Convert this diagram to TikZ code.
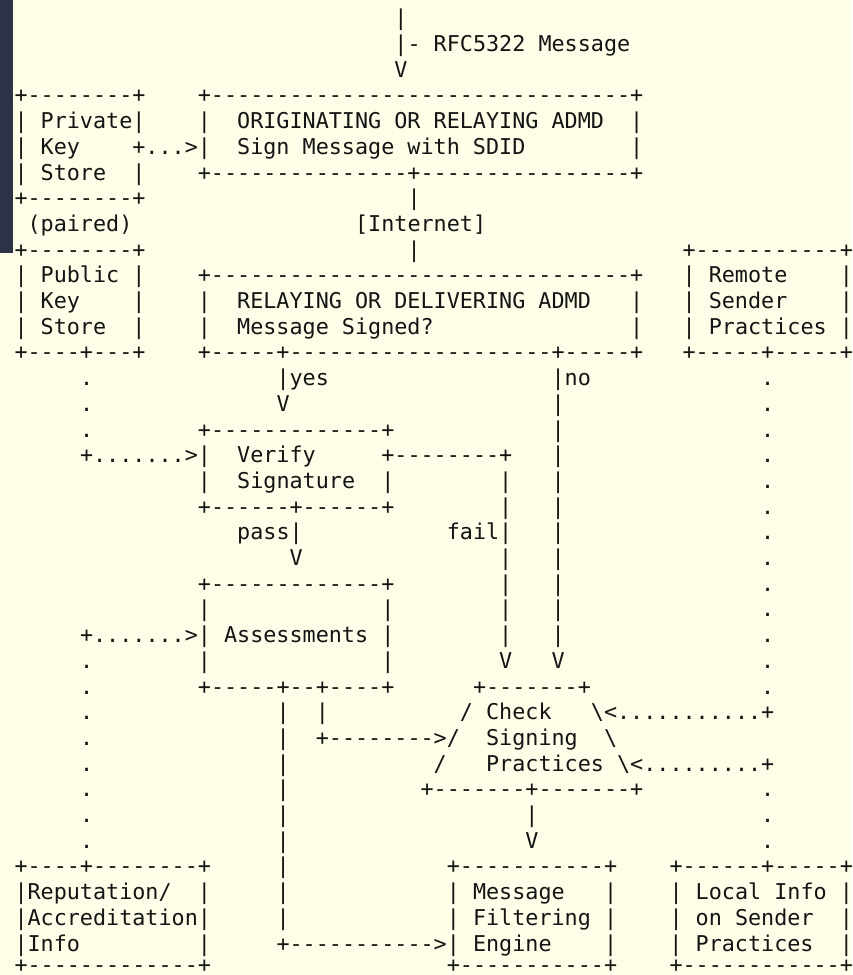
\documentclass[tikz,border=0pt]{standalone}
\usepackage{fontspec}
\setmonofont{DejaVu Sans Mono}
\definecolor{papercolor}{RGB}{254,253,232}
\definecolor{sidebarcolor}{RGB}{44,51,70}
\definecolor{inkcolor}{RGB}{20,20,20}
\newcommand{\atcol}[2]{\makebox[0pt][l]{\kern#1\fontdimen2\font\relax#2}}

\begin{document}
\begin{tikzpicture}[x=0.5pt, y=-0.5pt,
    asciirow/.style={anchor=base west, inner sep=0pt, outer sep=0pt, text=inkcolor,
        font=\ttfamily\fontsize{10.88}{13}\selectfont}]
    \fill[papercolor] (0,0) rectangle (852,975);
    \fill[sidebarcolor] (0,0) rectangle (13,253);
    \useasboundingbox (0,0) rectangle (852,975);

    % signing side
    \node[asciirow] at (13.5,25.8) (Row01) {\atcol{29}{|}};
    \node[asciirow] at (13.5,51.5) (Row02) {\atcol{29}{|- RFC5322 Message}};
    \node[asciirow] at (13.5,77.2) (Row03) {\atcol{29}{V}};
    \node[asciirow] at (13.5,102.9) (Row04) {\atcol{0}{+--------+}\atcol{14}{+--------------------------------+}};
    \node[asciirow] at (13.5,128.6) (Row05) {\atcol{0}{| Private|}\atcol{14}{|}\atcol{17}{ORIGINATING OR RELAYING ADMD}\atcol{47}{|}};
    \node[asciirow] at (13.5,154.3) (Row06) {\atcol{0}{| Key}\atcol{9}{+...>|}\atcol{17}{Sign Message with SDID}\atcol{47}{|}};
    \node[asciirow] at (13.5,180.0) (Row07) {\atcol{0}{| Store}\atcol{9}{|}\atcol{14}{+---------------+----------------+}};
    \node[asciirow] at (13.5,205.7) (Row08) {\atcol{0}{+--------+}\atcol{30}{|}};
    \node[asciirow] at (13.5,231.4) (Row09) {\atcol{1}{(paired)}\atcol{26}{[Internet]}};

    % verifying side
    \node[asciirow] at (13.5,257.1) (Row10) {\atcol{0}{+--------+}\atcol{30}{|}\atcol{51}{+-----------+}};
    \node[asciirow] at (13.5,282.8) (Row11) {\atcol{0}{| Public |}\atcol{14}{+--------------------------------+}\atcol{51}{| Remote}\atcol{63}{|}};
    \node[asciirow] at (13.5,308.5) (Row12) {\atcol{0}{| Key}\atcol{9}{|}\atcol{14}{|}\atcol{17}{RELAYING OR DELIVERING ADMD}\atcol{47}{|}\atcol{51}{| Sender}\atcol{63}{|}};
    \node[asciirow] at (13.5,334.2) (Row13) {\atcol{0}{| Store}\atcol{9}{|}\atcol{14}{|}\atcol{17}{Message Signed?}\atcol{47}{|}\atcol{51}{| Practices |}};
    \node[asciirow] at (13.5,359.9) (Row14) {\atcol{0}{+----+---+}\atcol{14}{+-----+--------------------+-----+}\atcol{51}{+-----+-----+}};
    \node[asciirow] at (13.5,385.6) (Row15) {\atcol{5}{.}\atcol{20}{|yes}\atcol{41}{|no}\atcol{57}{.}};
    \node[asciirow] at (13.5,411.3) (Row16) {\atcol{5}{.}\atcol{20}{V}\atcol{41}{|}\atcol{57}{.}};
    \node[asciirow] at (13.5,437.0) (Row17) {\atcol{5}{.}\atcol{14}{+-------------+}\atcol{41}{|}\atcol{57}{.}};
    \node[asciirow] at (13.5,462.7) (Row18) {\atcol{5}{+.......>|}\atcol{17}{Verify}\atcol{28}{+--------+}\atcol{41}{|}\atcol{57}{.}};
    \node[asciirow] at (13.5,488.4) (Row19) {\atcol{14}{|}\atcol{17}{Signature}\atcol{28}{|}\atcol{37}{|}\atcol{41}{|}\atcol{57}{.}};
    \node[asciirow] at (13.5,514.1) (Row20) {\atcol{14}{+------+------+}\atcol{37}{|}\atcol{41}{|}\atcol{57}{.}};
    \node[asciirow] at (13.5,539.8) (Row21) {\atcol{17}{pass|}\atcol{33}{fail|}\atcol{41}{|}\atcol{57}{.}};
    \node[asciirow] at (13.5,565.5) (Row22) {\atcol{21}{V}\atcol{37}{|}\atcol{41}{|}\atcol{57}{.}};
    \node[asciirow] at (13.5,591.2) (Row23) {\atcol{14}{+-------------+}\atcol{37}{|}\atcol{41}{|}\atcol{57}{.}};
    \node[asciirow] at (13.5,616.9) (Row24) {\atcol{14}{|}\atcol{28}{|}\atcol{37}{|}\atcol{41}{|}\atcol{57}{.}};
    \node[asciirow] at (13.5,642.6) (Row25) {\atcol{5}{+.......>| Assessments |}\atcol{37}{|}\atcol{41}{|}\atcol{57}{.}};
    \node[asciirow] at (13.5,668.3) (Row26) {\atcol{5}{.}\atcol{14}{|}\atcol{28}{|}\atcol{37}{V}\atcol{41}{V}\atcol{57}{.}};
    \node[asciirow] at (13.5,694.0) (Row27) {\atcol{5}{.}\atcol{14}{+-----+--+----+}\atcol{35}{+-------+}\atcol{57}{.}};

    % practices check
    \node[asciirow] at (13.5,719.7) (Row28) {\atcol{5}{.}\atcol{20}{|}\atcol{23}{|}\atcol{34}{/ Check}\atcol{44}{\textbackslash<...........+}};
    \node[asciirow] at (13.5,745.4) (Row29) {\atcol{5}{.}\atcol{20}{|}\atcol{23}{+-------->/}\atcol{36}{Signing}\atcol{45}{\textbackslash}};
    \node[asciirow] at (13.5,771.1) (Row30) {\atcol{5}{.}\atcol{20}{|}\atcol{32}{/}\atcol{36}{Practices \textbackslash<.........+}};
    \node[asciirow] at (13.5,796.8) (Row31) {\atcol{5}{.}\atcol{20}{|}\atcol{31}{+-------+-------+}\atcol{57}{.}};
    \node[asciirow] at (13.5,822.5) (Row32) {\atcol{5}{.}\atcol{20}{|}\atcol{39}{|}\atcol{57}{.}};
    \node[asciirow] at (13.5,848.2) (Row33) {\atcol{5}{.}\atcol{20}{|}\atcol{39}{V}\atcol{57}{.}};
    \node[asciirow] at (13.5,873.9) (Row34) {\atcol{0}{+----+--------+}\atcol{20}{|}\atcol{33}{+-----------+}\atcol{50}{+------+-----+}};
    \node[asciirow] at (13.5,899.6) (Row35) {\atcol{0}{|Reputation/}\atcol{14}{|}\atcol{20}{|}\atcol{33}{| Message}\atcol{45}{|}\atcol{50}{| Local Info |}};
    \node[asciirow] at (13.5,925.3) (Row36) {\atcol{0}{|Accreditation|}\atcol{20}{|}\atcol{33}{| Filtering |}\atcol{50}{| on Sender}\atcol{63}{|}};
    \node[asciirow] at (13.5,951.0) (Row37) {\atcol{0}{|Info}\atcol{14}{|}\atcol{20}{+----------->| Engine}\atcol{45}{|}\atcol{50}{| Practices}\atcol{63}{|}};
    \node[asciirow] at (13.5,972.0) (Row38) {\atcol{0}{+-------------+}\atcol{33}{+-----------+}\atcol{50}{+------------+}};
\end{tikzpicture}
\end{document}
